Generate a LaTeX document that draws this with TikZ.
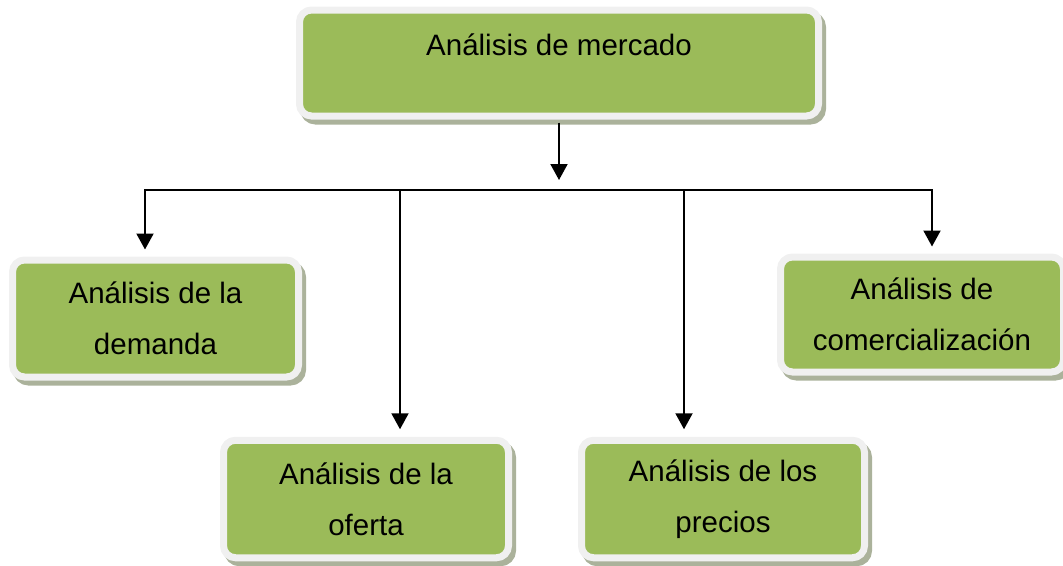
\documentclass[tikz,border=0pt]{standalone}
\usepackage{fontspec}
\setmainfont{Liberation Sans}
\usetikzlibrary{arrows.meta}
\definecolor{boxgreen}{HTML}{9BBB59}
\definecolor{boxrim}{HTML}{F0F0F0}
\definecolor{boxshadow}{HTML}{ABB29B}
\tikzset{
  gbox/.style={rectangle, rounded corners=12pt, fill=boxgreen, draw=boxrim,
    line width=7pt, inner sep=0pt, align=center,
    font=\fontsize{29.5}{51}\selectfont,
    preaction={draw=boxshadow, fill=boxshadow, line width=7pt,
      transform canvas={shift={(4pt,-5pt)}}}},
  arr/.style={line width=2pt, -{Triangle[width=17pt,length=16pt]}},
  ln/.style={line width=2pt}
}
\begin{document}
\begin{tikzpicture}[x=1pt,y=-1pt]
\useasboundingbox (0,0) rectangle (1063,565);
% coordinates of the connector tree
\coordinate (tip) at (559,180);
\coordinate (hl) at (145,190);
\coordinate (ho) at (400,190);
\coordinate (hp) at (684,190);
\coordinate (hr) at (932,190);
% boxes
\node[gbox, minimum width=519pt, text height=45pt, text depth=61pt] (top) at (559,63) {Análisis de mercado};
\node[gbox, minimum width=286pt, minimum height=117pt] (dem) at (155.5,318.5) {Análisis de la\\demanda};
\node[gbox, minimum width=283pt, minimum height=115pt] (com) at (922,314.5) {Análisis de\\comercialización};
\node[gbox, minimum width=285pt, minimum height=117.5pt] (ofe) at (366,499) {Análisis de la\\oferta};
\node[gbox, minimum width=283pt, minimum height=117.5pt] (pre) at (723,499) {Análisis de los\\precios};
% connectors
\draw[arr] ([yshift=-3pt]top.south) -- (tip);
\draw[arr] (hr) -- (hl) -- (hl |- dem.north) [shorten >=7pt];
\draw[arr] (hl) -- (hr) -- (hr |- com.north) [shorten >=7pt];
\draw[arr, shorten >=7.5pt] (ho) -- (ho |- ofe.north);
\draw[arr, shorten >=7.5pt] (hp) -- (hp |- pre.north);
\end{tikzpicture}
\end{document}
